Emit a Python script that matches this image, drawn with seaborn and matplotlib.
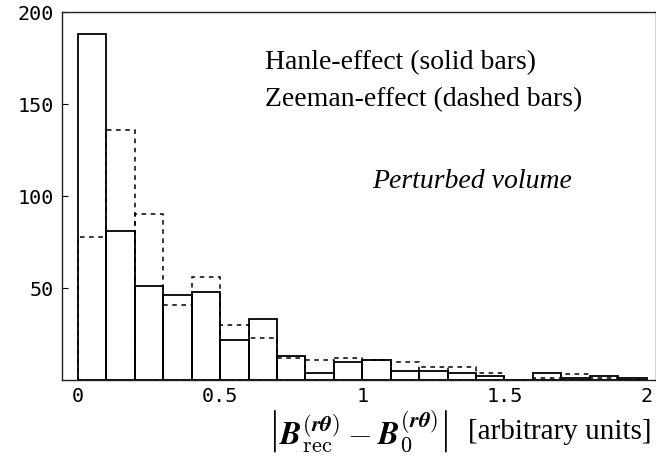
import numpy as np
import pandas as pd
import seaborn as sns
import matplotlib.pyplot as plt

# bin edges of the histogram (width 0.1 from 0 to 2)
bin_edges = [round(0.1 * i, 1) for i in range(21)]
bin_centers = [round(0.05 + 0.1 * i, 2) for i in range(20)]

# counts
hanle_counts = [188, 81, 51, 46, 48, 22, 33, 13, 4, 10, 11, 5, 5, 4, 2, 0, 4, 1, 2, 1]
zeeman_counts = [78, 136, 90, 41, 56, 30, 23, 12, 11, 12, 11, 10, 7, 7, 4, 0, 1, 3, 1, 0]

df = pd.DataFrame({
    'center': bin_centers * 2,
    'count': hanle_counts + zeeman_counts,
    'method': ['Hanle'] * 20 + ['Zeeman'] * 20,
})

sns.set_style('ticks')
plt.rcParams['mathtext.fontset'] = 'cm'
plt.rcParams['text.color'] = 'black'
plt.rcParams['xtick.color'] = 'black'
plt.rcParams['ytick.color'] = 'black'

fig = plt.figure(figsize=(6.56, 4.57), dpi=100)
ax = fig.add_axes([0.0945, 0.1685, 0.905, 0.805])

# dashed bars first, solid bars on top
sns.histplot(data=df[df['method'] == 'Zeeman'], x='center', weights='count',
             bins=bin_edges, fill=False, element='bars', color='black',
             linestyle=(0, (3, 3)), linewidth=1.1, ax=ax)
sns.histplot(data=df[df['method'] == 'Hanle'], x='center', weights='count',
             bins=bin_edges, fill=False, element='bars', color='black',
             linewidth=1.3, ax=ax)

ax.set_xlim(-0.056, 2.032)
ax.set_ylim(0, 200)
ax.set_xticks([0, 0.5, 1, 1.5, 2])
ax.set_xticklabels(['0', '0.5', '1', '1.5', '2'])
ax.set_yticks([50, 100, 150, 200])
ax.tick_params(axis='both', direction='in', length=4, width=0.8,
               labelsize=14.5, pad=6)
for lab in ax.get_xticklabels() + ax.get_yticklabels():
    lab.set_family('DejaVu Sans Mono')
ax.tick_params(axis='x', length=0, pad=5)
for side in ['left', 'top', 'bottom', 'right']:
    ax.spines[side].set_linewidth(1.0)
    ax.spines[side].set_color('#222222')

ax.set_ylabel('')
ax.set_xlabel('')

# x label in two parts: large math term and the units
fig.text(652 / 656, 1 - 432 / 457, '[arbitrary units]', fontsize=21,
         family='Liberation Serif', ha='right', va='center')
fig.text(449 / 656, 1 - 431 / 457,
         r'$\left|\boldsymbol{B}^{\boldsymbol{(r\theta)}}_{\rm rec} - \boldsymbol{B}^{\boldsymbol{(r\theta)}}_{\mathbf{0}}\right|$',
         fontsize=23, ha='right', va='center')

ax.text(265, 63, 'Hanle-effect (solid bars)', transform=None, fontsize=20,
        family='Liberation Serif', va='center', ha='left')
ax.text(265, 100, 'Zeeman-effect (dashed bars)', transform=None, fontsize=20,
        family='Liberation Serif', va='center', ha='left')
ax.text(372, 182, 'Perturbed volume', transform=None, fontsize=20,
        family='Liberation Serif', style='italic', va='center', ha='left')

# texts placed in pixel coords measured from top; convert
for t in ax.texts:
    x, y = t.get_position()
    t.set_position((x, 457 - y))

fig.savefig('out.png', dpi=100)
